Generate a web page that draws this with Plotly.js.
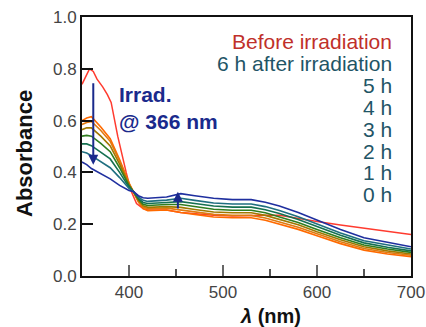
<!DOCTYPE html>
<html>
<head>
<meta charset="utf-8">
<script src="https://cdn.plot.ly/plotly-3.0.1.min.js"></script>
<style>html,body{margin:0;padding:0;background:#fff;}#chart{width:426px;height:327px;}</style>
</head>
<body>
<div id="chart"></div>
<script>
// Wavelength grid (nm)
const wavelength = [350,355,360,370,380,390,400,405,410,415,420,440,455,470,490,510,530,545,560,580,600,625,650,675,700];

// Before irradiation (own grid)
const wavelengthBefore = [350,355,358,362,366,372,377,381,388,397,402,408,415,420,440,455,470,490,510,530,545,560,580,600,625,650,675,700];
const absBefore = [0.74,0.78,0.80,0.79,0.76,0.73,0.70,0.67,0.54,0.40,0.33,0.28,0.26,0.255,0.255,0.245,0.24,0.235,0.232,0.235,0.235,0.235,0.222,0.21,0.197,0.185,0.172,0.16];

const abs0h = [0.600,0.610,0.615,0.575,0.530,0.450,0.360,0.325,0.285,0.260,0.252,0.255,0.245,0.238,0.228,0.225,0.225,0.215,0.200,0.180,0.155,0.125,0.100,0.085,0.075];
const abs1h = [0.585,0.593,0.597,0.562,0.520,0.443,0.357,0.325,0.288,0.266,0.259,0.262,0.255,0.248,0.238,0.234,0.234,0.224,0.209,0.188,0.163,0.132,0.106,0.091,0.080];
const abs2h = [0.565,0.572,0.572,0.540,0.502,0.432,0.353,0.325,0.292,0.271,0.265,0.268,0.265,0.257,0.247,0.244,0.244,0.234,0.219,0.198,0.171,0.140,0.113,0.097,0.085];
const abs3h = [0.540,0.543,0.540,0.512,0.480,0.418,0.348,0.325,0.296,0.277,0.272,0.276,0.276,0.268,0.258,0.254,0.254,0.244,0.229,0.207,0.180,0.148,0.120,0.104,0.091];
const abs4h = [0.510,0.510,0.503,0.478,0.452,0.400,0.343,0.325,0.300,0.284,0.280,0.284,0.287,0.280,0.270,0.266,0.266,0.256,0.241,0.218,0.190,0.157,0.128,0.111,0.097];
const abs5h = [0.480,0.475,0.465,0.440,0.418,0.380,0.338,0.325,0.305,0.292,0.288,0.293,0.300,0.292,0.282,0.278,0.278,0.268,0.253,0.229,0.200,0.166,0.136,0.119,0.104];
const abs6h = [0.440,0.430,0.415,0.395,0.375,0.350,0.330,0.325,0.310,0.302,0.300,0.305,0.318,0.310,0.300,0.295,0.295,0.285,0.270,0.245,0.215,0.180,0.148,0.130,0.113];

const seriesNames = ["0 h","1 h","2 h","3 h","4 h","5 h","6 h after irradiation"];
const seriesValues = [abs0h,abs1h,abs2h,abs3h,abs4h,abs5h,abs6h];
const seriesColors = ["#ff6a00","#e07a10","#a07800","#2f7d1f","#157050","#1f6f80","#1f2f9f"];

// Legend text (top to bottom)
const legendLabels = ["Before irradiation","6 h after irradiation","5 h","4 h","3 h","2 h","1 h","0 h"];
const legendColors = ["#c0302a","#1f5566","#1f5566","#1f5566","#1f5566","#1f5566","#1f5566","#1f5566"];

const yTicks = [0,0.2,0.4,0.6,0.8,1.0];
const xTicks = [400,500,600,700];

const font = "Liberation Sans, Arial, sans-serif";
const navy = "#1a2a8c";

const traces = [];
traces.push({x: wavelengthBefore, y: absBefore, type:'scatter', mode:'lines', name:'Before irradiation',
  line:{color:'#ff3b2f', width:1.5}, showlegend:false});
seriesValues.forEach((v,i)=>{
  traces.push({x: wavelength, y: v, type:'scatter', mode:'lines', name: seriesNames[i],
    line:{color: seriesColors[i], width:1.6}, showlegend:false});
});

const annotations = [];
const legendTop = 0.905, legendStep = 0.0845;
legendLabels.forEach((t,i)=>{
  annotations.push({x:682, y: legendTop - i*legendStep, xref:'x', yref:'y', text:t, showarrow:false,
    xanchor:'right', yanchor:'middle', font:{family:font, size:21, color:legendColors[i]}});
});
annotations.push({x:387, y:0.65, xref:'x', yref:'y', text:'<b>Irrad.</b><br><b>@ 366 nm</b>', showarrow:false,
  xanchor:'left', yanchor:'middle', align:'left', font:{family:font, size:21, color:navy}});
// arrows
annotations.push({x:362, y:0.43, ax:362, ay:0.75, xref:'x', yref:'y', axref:'x', ayref:'y', text:'',
  showarrow:true, arrowhead:2, arrowsize:1, arrowwidth:2, arrowcolor:navy});
annotations.push({x:452, y:0.325, ax:452, ay:0.255, xref:'x', yref:'y', axref:'x', ayref:'y', text:'',
  showarrow:true, arrowhead:2, arrowsize:1, arrowwidth:2, arrowcolor:navy});
// axis titles
annotations.push({x:(270-82)/329, y:-(316-276)/259, xref:'paper', yref:'paper', text:'<b><i>λ</i> (nm)</b>',
  showarrow:false, xanchor:'center', yanchor:'middle', font:{family:font, size:20, color:'#111'}});
annotations.push({x:-(82-24)/329, y:(276-154)/259, xref:'paper', yref:'paper', text:'<b>Absorbance</b>', textangle:-90,
  showarrow:false, xanchor:'center', yanchor:'middle', font:{family:font, size:22, color:'#111'}});

const layout = {
  width:426, height:327,
  margin:{l:82, r:15, t:17, b:51},
  paper_bgcolor:'#fff', plot_bgcolor:'#fff',
  showlegend:false,
  xaxis:{range:[350,700], tickvals:xTicks, ticks:'inside', ticklen:11, tickwidth:2, tickcolor:'#666',
    minor:{dtick:50, tick0:350, ticks:'inside', ticklen:7, tickwidth:2, tickcolor:'#555'},
    showline:true, linecolor:'#111', linewidth:2, mirror:true, showgrid:false, zeroline:false,
    tickfont:{family:font, size:17, color:'#444'}},
  yaxis:{range:[0,1.0], tickvals:yTicks, tickformat:'.1f', ticks:'inside', ticklen:11, tickwidth:2, tickcolor:'#111',
    showline:true, linecolor:'#111', linewidth:2, mirror:true, showgrid:false, zeroline:false,
    tickfont:{family:font, size:17, color:'#444'}},
  annotations: annotations
};

Plotly.newPlot('chart', traces, layout, {displayModeBar:false, staticPlot:true});
</script>
</body>
</html>
